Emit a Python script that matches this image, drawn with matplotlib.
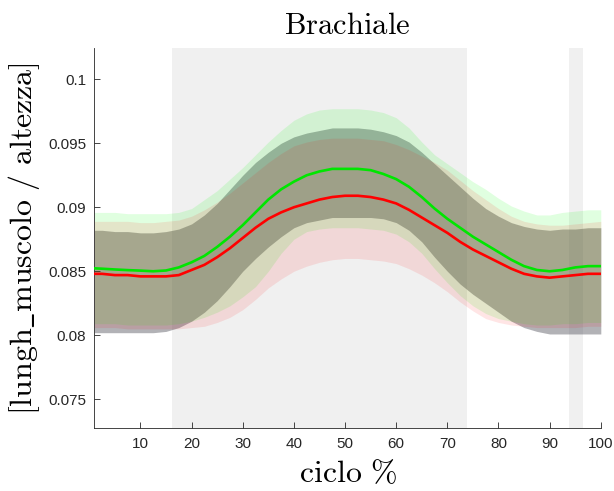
import numpy as np
import matplotlib
matplotlib.use('Agg')
from matplotlib import pyplot as plt

# % ciclo
x = [1, 2.5, 5, 7.5, 10, 12.5, 15, 17.5, 20, 22.5, 25, 27.5, 30, 32.5, 35, 37.5, 40, 42.5, 45, 47.5,
     50, 52.5, 55, 57.5, 60, 62.5, 65, 67.5, 70, 72.5, 75, 77.5, 80, 82.5, 85, 87.5, 90, 92.5, 95, 97.5, 100]

green_mean = [.08523, .0852, .08514, .08509, .08505, .0850, .08506, .0853, .0857, .0862, .0869,
              .0877, .0886, .0896, .0906, .0914, .0920, .0925, .0928, .0930, .0930, .0930,
              .0929, .0926, .0922, .0916, .0908, .0899, .0891, .0884, .0877, .0871, .0865,
              .0859, .0854, .0851, .0850, .0851, .0853, .0854, .0854]
green_hi = [.0896, .0896, .0896, .0895, .0895, .0895, .0895, .0896, .0899, .0906, .0913,
            .0922, .0931, .0941, .0951, .0960, .0968, .0973, .0976, .0977, .0977, .0977,
            .0976, .0974, .0970, .0962, .0951, .0941, .0934, .0927, .0920, .0914, .0907,
            .0901, .0897, .0894, .0894, .0896, .0897, .0898, .0898]
green_lo = [.0809, .0809, .0809, .0808, .0808, .0808, .0808, .0809, .0811, .0814, .0818,
            .0823, .0830, .0838, .0850, .0864, .0875, .0881, .0883, .0884, .0884, .0884,
            .0883, .0882, .0879, .0873, .0864, .0852, .0841, .0831, .0823, .0817, .0813,
            .0811, .0809, .0808, .0808, .0809, .0809, .0810, .0810]

red_mean = [.0848, .0848, .0847, .0847, .0846, .0846, .0846, .0847, .0851, .0855, .0861,
            .0868, .0876, .0884, .0891, .0896, .0900, .0903, .0906, .0908, .0909, .0909,
            .0908, .0906, .0903, .0898, .0892, .0886, .0880, .0873, .0867, .0862, .0857,
            .0852, .0848, .0846, .0845, .0846, .0847, .0848, .0848]
red_hi = [.0889, .0889, .0889, .0889, .0888, .0888, .0889, .0890, .0893, .0898, .0904,
          .0911, .0919, .0927, .0935, .0942, .0948, .0951, .0953, .0954, .0954, .0954,
          .0953, .0952, .0949, .0945, .0940, .0935, .0929, .0921, .0913, .0906, .0899,
          .0893, .0889, .0887, .0886, .0886, .0887, .0888, .0889]
red_lo = [.0806, .0806, .0806, .0805, .0805, .0805, .0805, .0805, .0806, .0807, .0810,
          .0814, .0820, .0828, .0837, .0844, .0850, .0854, .0857, .0859, .0860, .0860,
          .0859, .0858, .0856, .0852, .0847, .0841, .0834, .0826, .0819, .0813, .0810,
          .0808, .0807, .0806, .0806, .0806, .0806, .0807, .0807]

gray_hi = [.0882, .0882, .0881, .0881, .0880, .0880, .0881, .0883, .0887, .0894, .0903,
           .0914, .0925, .0935, .0943, .0950, .0955, .0958, .0960, .0962, .0962, .0962,
           .0961, .0959, .0956, .0951, .0943, .0934, .0925, .0916, .0907, .0899, .0893,
           .0888, .0885, .0883, .0882, .0883, .0883, .0884, .0884]
gray_lo = [.0802, .0802, .0802, .0802, .0802, .0802, .0803, .0806, .0811, .0818, .0827,
           .0838, .0850, .0860, .0869, .0877, .0884, .0888, .0890, .0892, .0892, .0892,
           .0892, .0891, .0888, .0882, .0873, .0861, .0850, .0840, .0832, .0825, .0818,
           .0811, .0806, .0803, .0801, .0801, .0801, .0801, .0801]

# intervalli evidenziati
phases = [(16.2, 73.8), (93.7, 96.5)]

xticks = [10, 20, 30, 40, 50, 60, 70, 80, 90, 100]
yticks = [0.075, 0.08, 0.085, 0.09, 0.095, 0.1]
yticklabels = ['0.075', '0.08', '0.085', '0.09', '0.095', '0.1']

plt.rcParams['mathtext.fontset'] = 'cm'
plt.rcParams['font.family'] = ['Liberation Sans', 'DejaVu Sans']

fig = plt.figure(figsize=(6.14, 4.91), dpi=100)
ax = fig.add_axes([0.1537, 0.1277, 0.8248, 0.7739])

for a, b in phases:
    ax.axvspan(a, b, color='#f0f0f0', lw=0, zorder=0)

ax.fill_between(x, gray_lo, gray_hi, color=(0.33, 0.33, 0.37), alpha=0.45, lw=0, zorder=1)
ax.fill_between(x, green_lo, green_hi, color=(0, 1, 0), alpha=0.12, lw=0, zorder=2)
ax.fill_between(x, red_lo, red_hi, color=(1, 0, 0), alpha=0.1, lw=0, zorder=3)
ax.plot(x, green_mean, color=(0, 0.9, 0), lw=1.9, zorder=4)
ax.plot(x, red_mean, color=(1, 0, 0), lw=1.9, zorder=5)

ax.set_xlim(1, 100)
ax.set_ylim(0.07273, 0.10242)
ax.set_xticks(xticks)
ax.set_yticks(yticks)
ax.set_yticklabels(yticklabels)
ax.tick_params(direction='in', length=4, width=0.6, colors='#262626', labelsize=11, pad=6)
for s in ['top', 'right']:
    ax.spines[s].set_visible(False)
for s in ['left', 'bottom']:
    ax.spines[s].set_color('#262626')
    ax.spines[s].set_linewidth(0.6)

ax.set_title(r'$\mathrm{Brachiale}$', fontsize=22, pad=10)
ax.set_xlabel(r'$\mathrm{ciclo\ \%}$', fontsize=23, labelpad=6)
ax.set_ylabel(r'$\mathrm{[lungh\_muscolo\ /\ altezza]}$', fontsize=23, labelpad=4)

plt.savefig('out.png', dpi=100)
